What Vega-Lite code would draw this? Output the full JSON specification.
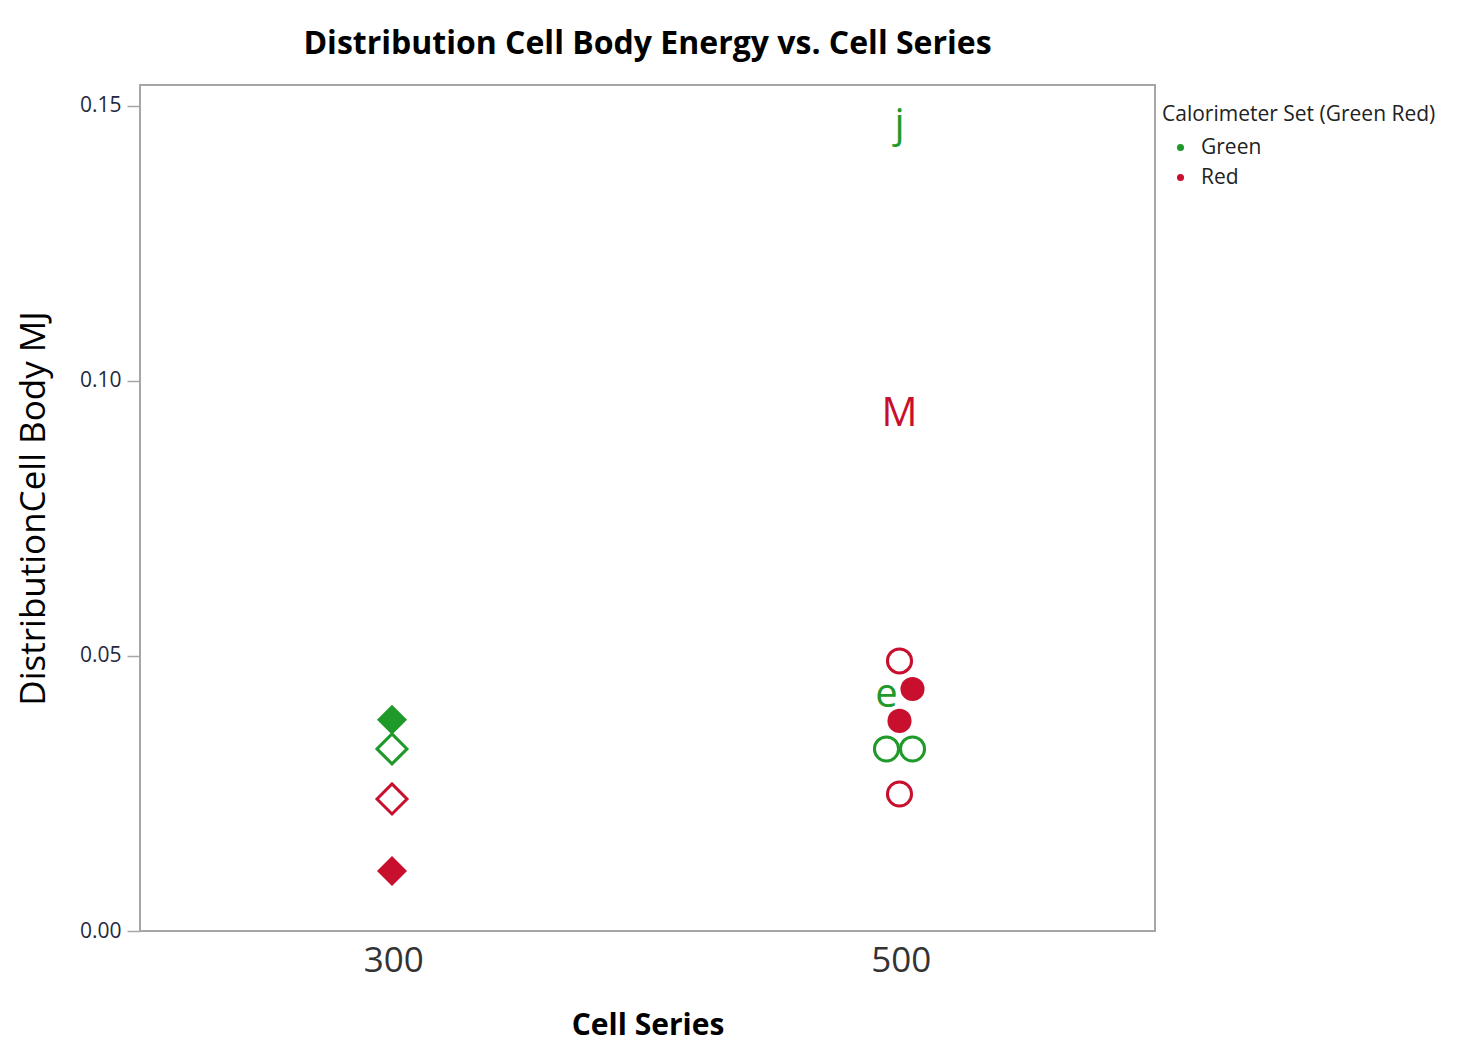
{
  "$schema": "https://vega.github.io/schema/vega-lite/v6.json",
  "width": 1015,
  "height": 846,
  "autosize": {"type": "none"},
  "padding": {"left": 140, "top": 85, "right": 302, "bottom": 114},
  "background": "white",
  "title": {
    "text": "Distribution Cell Body Energy vs. Cell Series",
    "font": "Open Sans",
    "fontSize": 32,
    "fontWeight": "bold",
    "color": "#000000",
    "anchor": "middle",
    "offset": 24
  },
  "config": {
    "view": {"stroke": "#a6a6a6", "strokeWidth": 2},
    "axis": {"grid": false, "domain": false}
  },
  "data": {
    "values": [
      {"series": "300", "set": "Green", "energy": 0.0384, "marker": "solid", "jitter": "C"},
      {"series": "300", "set": "Green", "energy": 0.0331, "marker": "hollow", "jitter": "C"},
      {"series": "300", "set": "Red", "energy": 0.0240, "marker": "hollow", "jitter": "C"},
      {"series": "300", "set": "Red", "energy": 0.0109, "marker": "solid", "jitter": "C"},
      {"series": "500", "set": "Green", "energy": 0.1465, "marker": "j", "jitter": "C"},
      {"series": "500", "set": "Red", "energy": 0.0940, "marker": "M", "jitter": "C"},
      {"series": "500", "set": "Red", "energy": 0.0491, "marker": "hollow", "jitter": "C"},
      {"series": "500", "set": "Red", "energy": 0.0440, "marker": "solid", "jitter": "R"},
      {"series": "500", "set": "Green", "energy": 0.0429, "marker": "e", "jitter": "L"},
      {"series": "500", "set": "Red", "energy": 0.0382, "marker": "solid", "jitter": "C"},
      {"series": "500", "set": "Green", "energy": 0.0331, "marker": "hollow", "jitter": "L"},
      {"series": "500", "set": "Green", "energy": 0.0331, "marker": "hollow", "jitter": "R"},
      {"series": "500", "set": "Red", "energy": 0.0249, "marker": "hollow", "jitter": "C"}
    ]
  },
  "encoding": {
    "x": {
      "field": "series",
      "type": "nominal",
      "scale": {"type": "band", "paddingInner": 0, "paddingOuter": 0},
      "axis": {
        "title": "Cell Series",
        "titleFont": "Open Sans",
        "titleFontSize": 30,
        "titleFontWeight": "bold",
        "titleColor": "#000000",
        "titlePadding": 32,
        "labelAngle": 0,
        "labelFont": "Open Sans",
        "labelFontSize": 35,
        "labelColor": "#333333",
        "labelPadding": 12,
        "ticks": false
      }
    },
    "xOffset": {
      "field": "jitter",
      "type": "nominal",
      "scale": {"type": "point", "domain": ["L", "C", "R"], "range": [239, 265], "padding": 0}
    },
    "y": {
      "field": "energy",
      "type": "quantitative",
      "scale": {"domain": [0, 0.1538], "nice": false, "zero": true},
      "axis": {
        "title": "DistributionCell Body MJ",
        "titleFont": "Open Sans",
        "titleFontSize": 35,
        "titleFontWeight": "normal",
        "titleColor": "#000000",
        "titlePadding": 28,
        "values": [0, 0.05, 0.1, 0.15],
        "format": ".2f",
        "labelFont": "Open Sans",
        "labelFontSize": 21,
        "labelColor": "#1f2a3f",
        "labelPadding": 6,
        "tickSize": 13,
        "tickColor": "#a6a6a6",
        "tickWidth": 1.5
      }
    },
    "color": {
      "field": "set",
      "type": "nominal",
      "scale": {"domain": ["Green", "Red"], "range": ["#1f9a2a", "#c8102e"]},
      "legend": {
        "title": "Calorimeter Set (Green Red)",
        "orient": "none",
        "legendX": 1022,
        "legendY": 19,
        "titleFont": "Open Sans",
        "titleFontSize": 21,
        "titleFontWeight": "normal",
        "titleColor": "#222222",
        "titleLimit": 400,
        "labelFont": "Open Sans",
        "labelFontSize": 21,
        "labelColor": "#222222",
        "labelOffset": 10,
        "symbolType": "circle",
        "symbolSize": 50,
        "symbolStrokeWidth": 0,
        "symbolOffset": 8,
        "rowPadding": 8,
        "titlePadding": 12,
        "offset": 0
      }
    }
  },
  "layer": [
    {
      "transform": [{"filter": "datum.marker === 'solid'"}],
      "mark": {"type": "point", "filled": true, "opacity": 1},
      "encoding": {
        "shape": {
          "field": "series",
          "type": "nominal",
          "scale": {"domain": ["300", "500"], "range": ["diamond", "circle"]},
          "legend": null
        },
        "size": {
          "field": "series",
          "type": "nominal",
          "scale": {"domain": ["300", "500"], "range": [900, 580]},
          "legend": null
        }
      }
    },
    {
      "transform": [{"filter": "datum.marker === 'hollow'"}],
      "mark": {"type": "point", "filled": false, "opacity": 1, "strokeWidth": 3},
      "encoding": {
        "shape": {
          "field": "series",
          "type": "nominal",
          "scale": {"domain": ["300", "500"], "range": ["diamond", "circle"]},
          "legend": null
        },
        "size": {
          "field": "series",
          "type": "nominal",
          "scale": {"domain": ["300", "500"], "range": [800, 560]},
          "legend": null
        }
      }
    },
    {
      "transform": [{"filter": "datum.marker !== 'solid' && datum.marker !== 'hollow'"}],
      "mark": {"type": "text", "font": "Open Sans", "fontSize": 40, "baseline": "middle", "align": "center"},
      "encoding": {
        "text": {"field": "marker", "type": "nominal"}
      }
    }
  ]
}
